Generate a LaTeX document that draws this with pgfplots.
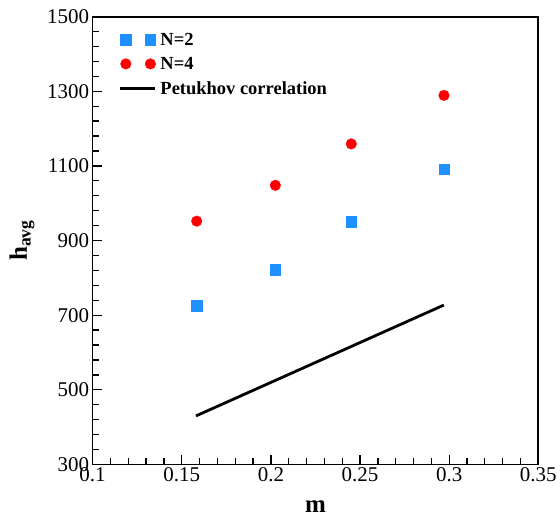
\documentclass[border=0pt]{standalone}
\usepackage{fontspec}
\setmainfont{Liberation Serif}
\usepackage{pgfplots}
\pgfplotsset{compat=1.18}
\definecolor{dblue}{RGB}{30,144,255}
\definecolor{mred}{RGB}{255,0,0}
\pgfplotsset{base/.style={width=446.3pt, height=448.3pt, scale only axis,
 xmin=0.1, xmax=0.35, ymin=300, ymax=1500, minor x tick num=4, tick style={black, line width=1.3pt}, major tick length=9pt}}
\begin{document}
\begin{tikzpicture}
\begin{axis}[base, tick align=inside, xtick pos=bottom, ytick pos=left,
 axis line style={line width=1.8pt},
 minor y tick num=4, minor tick length=6pt,
 xtick={0.1,0.15,0.2,0.25,0.3,0.35},
 xticklabels={0.1,0.15,0.2,0.25,0.3,0.35},
 ytick={300,500,700,900,1100,1300,1500},
 /pgf/number format/assume math mode=true, /pgf/number format/1000 sep={},
 ticklabel style={font=\fontsize{21}{25}\selectfont}]
\addplot[draw=none, mark=none, forget plot] coordinates {(0.2,800)};
\end{axis}
\begin{axis}[width=446.3pt, height=448.3pt, scale only axis,
 xmin=0.1, xmax=0.35, ymin=300, ymax=1500, hide axis,
 legend style={draw=none, fill=none, at={(axis description cs:0,1)}, anchor=north west,
   xshift=26pt, yshift=-14pt, font=\bfseries\fontsize{18.5}{22}\selectfont,
   inner sep=0pt, row sep=6.5pt, cells={anchor=west},
   /tikz/every odd column/.style={column sep=2pt}},
]
\coordinate (sw) at (rel axis cs:0,0);
\coordinate (ne) at (rel axis cs:1,1);
\coordinate (xl) at (rel axis cs:0.5,0);
\coordinate (yl) at (rel axis cs:0,0.5);
\addplot[only marks, mark=square*, mark size=5.2pt, color=dblue,
  legend image code/.code={\draw[mark repeat=1] plot coordinates {(5.7pt,0pt) (30.3pt,0pt)};}]
  coordinates {(0.1584,725) (0.2025,822) (0.2451,950) (0.2971,1091)};
\addlegendentry{N=2}
\addplot[only marks, mark=*, mark size=5.3pt, color=mred,
  legend image code/.code={\draw[mark repeat=1] plot coordinates {(5.7pt,0pt) (30.3pt,0pt)};}]
  coordinates {(0.1584,952) (0.2025,1048) (0.2451,1159) (0.2971,1289)};
\addlegendentry{N=4}
\addplot[black, line width=2.8pt, no marks,
  legend image code/.code={\draw (0pt,0pt) -- (35pt,0pt);}]
  coordinates {(0.158,430) (0.297,727)};
\addlegendentry{Petukhov correlation}
\end{axis}
\node[font=\bfseries\fontsize{25}{30}\selectfont, anchor=base] at ([yshift=-48.3pt]xl) {m};
\node[font=\bfseries\fontsize{25}{30}\selectfont, rotate=90] at ([xshift=-70.7pt]yl) {h\textsubscript{avg}};
\path ([xshift=-92.7pt,yshift=-61pt]sw) rectangle ([xshift=21pt,yshift=16.7pt]ne);
\end{tikzpicture}
\end{document}
